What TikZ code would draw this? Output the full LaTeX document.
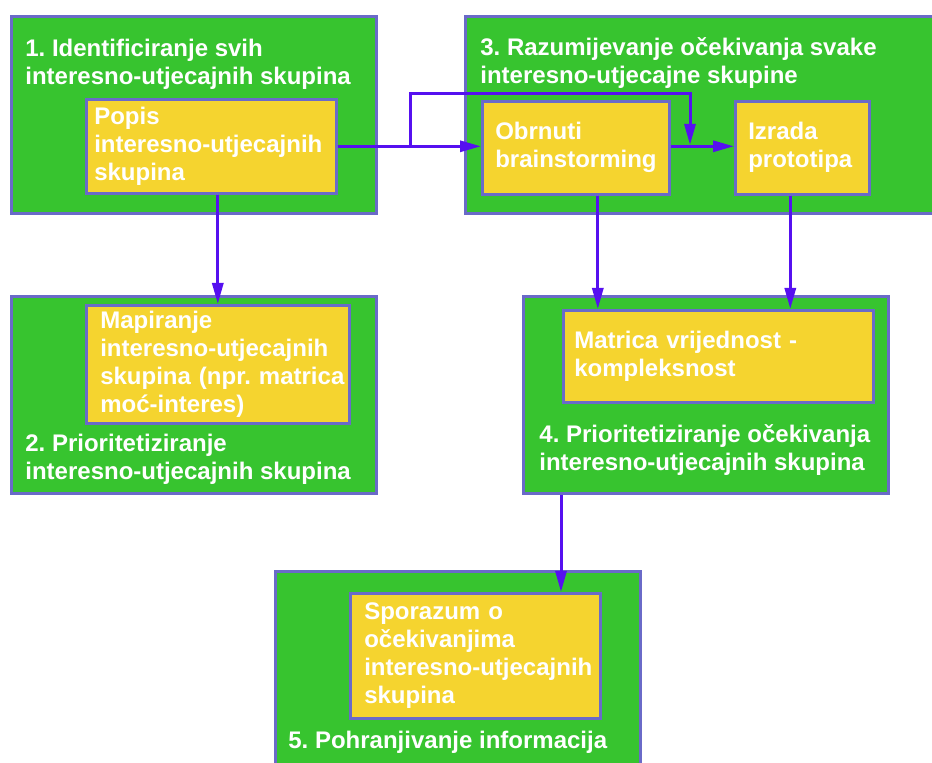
\documentclass[tikz,border=0pt]{standalone}
\usepackage{fontspec}
\setmainfont{Liberation Sans}
\usetikzlibrary{arrows.meta}
\definecolor{phasegreen}{RGB}{55,196,47}
\definecolor{taskyellow}{RGB}{245,212,47}
\definecolor{edgeblue}{RGB}{106,106,200}
\definecolor{flowviolet}{RGB}{86,16,240}
\newcommand{\boxfont}{\bfseries\frenchspacing\fontsize{12}{14}\selectfont}

\tikzset{
  phase/.style={draw=edgeblue,fill=phasegreen,line width=1.3pt,anchor=north west,inner sep=0pt},
  task/.style={draw=edgeblue,fill=taskyellow,line width=1.3pt,anchor=north west,inner ysep=0pt,align=left,text=white,font=\boxfont},
  title/.style={anchor=north west,inner sep=0pt,align=left,text=white,font=\boxfont},
  flow/.style={draw=flowviolet,line width=1.5pt,-{Triangle[length=10.5pt,width=5.5pt]}}
}

\begin{document}
\begin{tikzpicture}[x=0.5pt,y=-0.5pt]
    \useasboundingbox (0,0) rectangle (932,763);

    % Phases
    \node[phase,minimum width=182.5pt,minimum height=98.5pt] (ident) at (10,15) {};
    \node[phase,minimum width=182.5pt,minimum height=98.5pt] (prior) at (10,295) {};
    \node[phase,minimum width=235pt,minimum height=98.5pt] (razum) at (464,15) {};
    \node[phase,minimum width=182.5pt,minimum height=98.5pt] (prioexp) at (522,295) {};
    \node[phase,minimum width=182.5pt,minimum height=105pt] (pohrana) at (274,570) {};

    % Phase titles
    \node[title] (ident-title) at (25,39) {1. Identificiranje svih\\interesno-utjecajnih skupina};
    \node[title] (razum-title) at (480,37) {3. Razumijevanje očekivanja svake\\interesno-utjecajne skupine};
    \node[title] (prior-title) at (25,434) {2. Prioritetiziranje\\interesno-utjecajnih skupina};
    \node[title] (prioexp-title) at (539,424) {4. Prioritetiziranje očekivanja\\interesno-utjecajnih skupina};
    \node[title] (pohrana-title) at (288,731) {5. Pohranjivanje informacija};

    % Tasks
    \node[task,minimum width=125pt,minimum height=47pt,text width=117pt,inner xsep=4pt] (popis) at (85,98)
        {Popis\\\mbox{interesno-utjecajnih}\\skupina};
    \node[task,minimum width=131.5pt,minimum height=59pt,text width=117.5pt,inner xsep=7pt] (mapiranje) at (85,304)
        {Mapiranje\\\mbox{interesno-utjecajnih}\\\mbox{skupina (npr. matrica}\\moć-interes)};
    \node[task,minimum width=93.5pt,minimum height=46.5pt,text width=80.5pt,inner xsep=6.5pt] (obrnuti) at (481,100)
        {Obrnuti\\\mbox{brainstorming}};
    \node[task,minimum width=67pt,minimum height=46.5pt,text width=54pt,inner xsep=6.5pt] (izrada) at (734,100)
        {Izrada\\\mbox{prototipa}};
    \node[task,minimum width=155pt,minimum height=46pt,text width=144pt,inner xsep=5.5pt] (matrica) at (562,309)
        {Matrica vrijednost -\\kompleksnost};
    \node[task,minimum width=125pt,minimum height=62.5pt,text width=111pt,inner xsep=7pt] (sporazum) at (349,592)
        {Sporazum o\\očekivanjima\\\mbox{interesno-utjecajnih}\\skupina};

    % Arrows
    \coordinate (split) at (410,145);
    \coordinate (merge) at (690,145);
    \draw[flow] (popis.east) -- (popis.east -| obrnuti.west);
    \draw[flow] (split) -- ++(0,-51) -| (merge);
    \draw[flow] (obrnuti.east |- popis.east) -- (izrada.west |- popis.east);
    \draw[flow] (mapiranje.north |- popis.south) -- (mapiranje.north);
    \draw[flow] ([xshift=11pt]obrnuti.south) -- ([xshift=11pt]obrnuti.south |- matrica.north);
    \draw[flow] ([xshift=-6pt]izrada.south) -- ([xshift=-6pt]izrada.south |- matrica.north);
    \draw[flow] ([xshift=19.5pt]prioexp.south west) -- ([xshift=19.5pt]prioexp.south west |- sporazum.north);
\end{tikzpicture}
\end{document}
